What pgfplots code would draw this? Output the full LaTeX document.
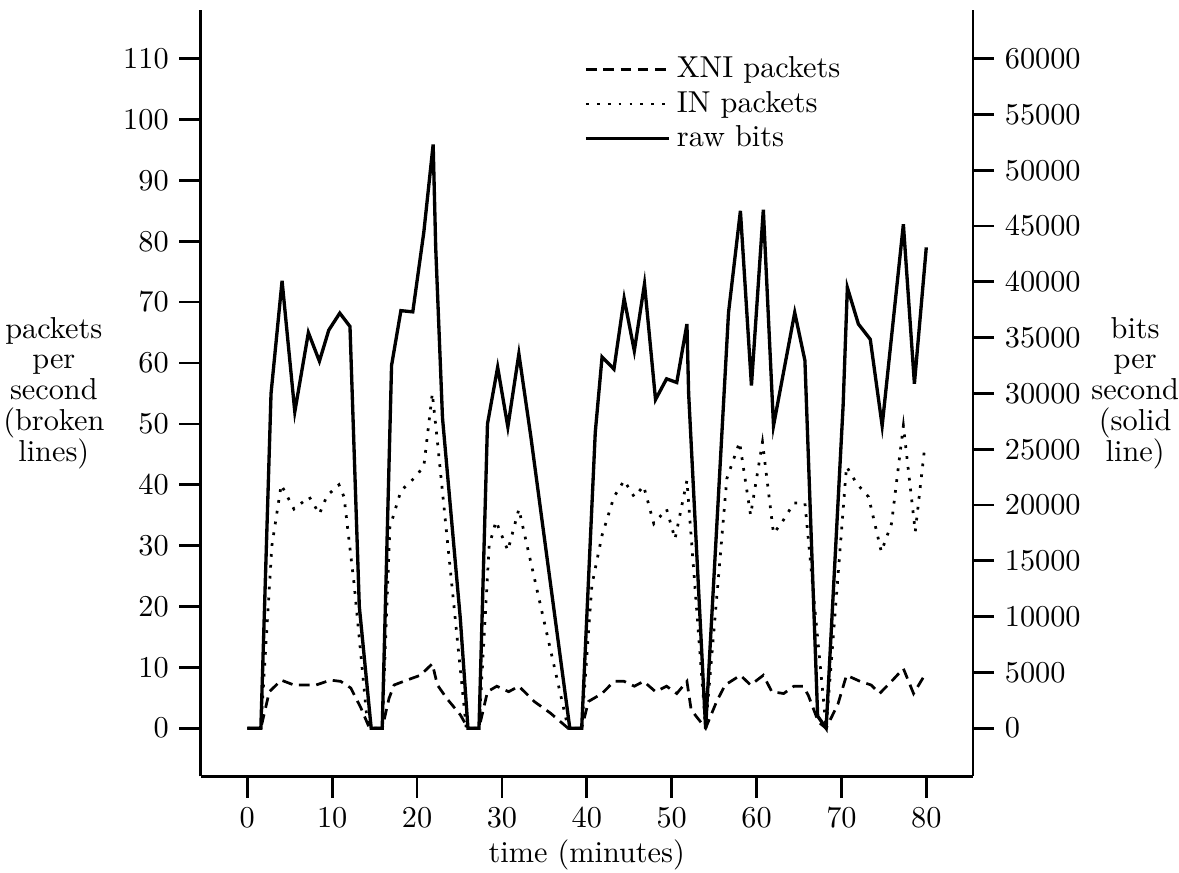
\documentclass[border=0pt]{standalone}
\usepackage{pgfplots}
\pgfplotsset{compat=1.18}

\pgfplotsset{
  trafficaxis/.style={
    scale only axis, width=255pt, height=253pt,
    xmin=-5.5, xmax=85.5,
    tick align=outside, major tick length=7pt,
    axis line style={-, line width=0.9pt},
    major tick style={line width=0.9pt, black},
    clip=false,
  },
  xni/.style={black, line width=0.9pt, dash pattern=on 3.5pt off 2.2pt},
  inp/.style={black, line width=0.9pt, dash pattern=on 0.9pt off 2.7pt},
  raw/.style={black, line width=1.1pt},
}

\begin{document}
\begin{tikzpicture}
% left axis: packets per second
\begin{axis}[trafficaxis,
  axis x line*=bottom, axis y line*=left,
  ymin=-7.9, ymax=118,
  xtick={0,10,...,80}, ytick={0,10,...,110},
  xlabel={time (minutes)},
  every axis x label/.style={at={(axis description cs:0.5,-0.103)}, anchor=center, inner sep=0pt},
  ylabel={packets\\per\\second\\(broken\\lines)},
  every axis y label/.style={at={(axis description cs:-0.19,0.5)}, anchor=center,
    align=center, inner sep=0pt, font=\fontsize{10}{10.2}\selectfont},
]
% XNI packets
\addplot[xni] coordinates {
 (0,0) (1.6,0) (2.6,6.0) (4.0,7.9) (5.5,7.1) (8.1,7.1) (9.8,7.9) (11.0,7.7)
 (12.2,6.6) (13.4,3.3) (14.4,0) (15.9,0) (16.7,4.9) (17.3,7.1) (18.8,7.9)
 (20.4,8.7) (21.8,10.6) (22.4,7.1) (23.5,4.9) (25.1,2.2) (26.0,0) (27.3,0)
 (28.3,6.0) (29.4,6.9) (30.8,6.0) (32.0,6.9) (33.8,4.4) (35.7,2.5) (37.8,0)
 (39.4,0) (40.2,4.4) (41.8,5.7) (43.2,7.7) (44.4,7.7) (45.6,6.9) (46.7,7.7)
 (48.1,6.0) (49.4,6.9) (50.6,5.7) (51.8,7.7) (52.3,3.0) (54.0,0) (55.3,4.4)
 (56.3,7.1) (58.1,8.7) (59.3,7.1) (60.8,8.7) (61.8,6.0) (63.2,5.7) (64.4,6.9)
 (65.5,6.9) (66.1,5.4) (67.3,1.0) (68.2,0) (69.6,4.0) (70.6,8.7) (72.2,7.7)
 (73.5,7.1) (74.5,5.7) (75.9,7.7) (77.3,9.8) (78.5,5.7) (79.8,8.7)
};
% IN packets
\addplot[inp] coordinates {
 (0,0) (1.6,0) (2.9,30) (4.0,40) (5.5,36) (7.3,38) (8.5,35.2) (9.4,38.2)
 (10.8,40) (11.4,38) (12.6,23.5) (14.1,1.6) (14.6,0) (15.9,0) (16.8,33)
 (18.1,39) (19.6,41) (20.8,43) (21.8,55) (22.3,48.5) (25.8,0) (27.3,0)
 (28.5,30) (29.3,34) (30.7,29.2) (32.0,36) (37.8,0) (39.4,0) (40.6,23.5)
 (41.8,31.7) (43.2,38) (44.4,40.7) (45.6,38) (46.7,39.8) (47.9,33.6)
 (49.4,36) (50.4,31.1) (51.8,40.7) (54.0,0) (56.5,41) (58.0,47) (59.3,35)
 (60.7,47) (62.0,32) (62.9,33.6) (64.4,37) (65.7,37) (68.2,0) (70.6,43)
 (71.8,40.2) (73.2,38) (74.7,29) (75.9,33.6) (77.3,49.7) (78.7,32.3) (79.8,46)
};
\path (axis description cs:-0.2597,-0.125) rectangle (axis description cs:1.2636,1.013);
\end{axis}
% right axis: bits per second
\begin{axis}[trafficaxis,
  axis x line=none, axis y line*=right,
  ymin=-4309, ymax=64364,
  ytick={0,5000,...,60000}, scaled y ticks=false,
  yticklabel style={/pgf/number format/1000 sep={}},
  ylabel={bits\\per\\second\\(solid\\line)},
  every axis y label/.style={at={(axis description cs:1.21,0.5)}, anchor=center,
    align=center, inner sep=0pt, font=\fontsize{10}{10.2}\selectfont},
  legend style={draw=none, fill=none, at={(axis description cs:0.496,0.948)},
    anchor=north west, cells={anchor=west}, row sep=-1pt, inner sep=0pt},
  legend image code/.code={\draw[#1] (0pt,0pt) -- (27.5pt,0pt);},
]
\addlegendimage{xni}\addlegendentry{XNI packets}
\addlegendimage{inp}\addlegendentry{IN packets}
\addplot[raw] coordinates {
 (0,0) (1.6,0) (2.8,30000) (4.1,40090) (5.6,28360) (7.2,35450) (8.5,32890)
 (9.6,35670) (10.9,37200) (12.1,36000) (13.2,10910) (14.6,0) (15.9,0)
 (17.0,32510) (18.1,37420) (19.5,37310) (20.8,44450) (21.9,52310) (22.2,43090)
 (23.0,27820) (25.1,9820) (26.0,0) (27.3,0) (28.3,27270) (29.5,32350)
 (30.7,27000) (32.0,33550) (33.4,26180) (38.0,0) (39.4,0) (41.0,26510)
 (41.8,33270) (43.2,32180) (44.4,38510) (45.6,33820) (46.8,39820) (48.1,29450)
 (49.4,31310) (50.6,30980) (51.8,36220) (52.0,30000) (54.0,0) (55.9,26180)
 (56.7,37250) (58.1,46360) (59.4,30710) (60.8,46470) (62.0,27110) (64.5,37250)
 (65.7,32950) (67.2,1090) (68.2,0) (70.2,28910) (70.7,39490) (72.0,36220)
 (73.4,34850) (74.8,27110) (77.3,45160) (78.6,30870) (80.0,43090)
};
\addlegendentry{raw bits}
\end{axis}
\end{tikzpicture}
\end{document}
